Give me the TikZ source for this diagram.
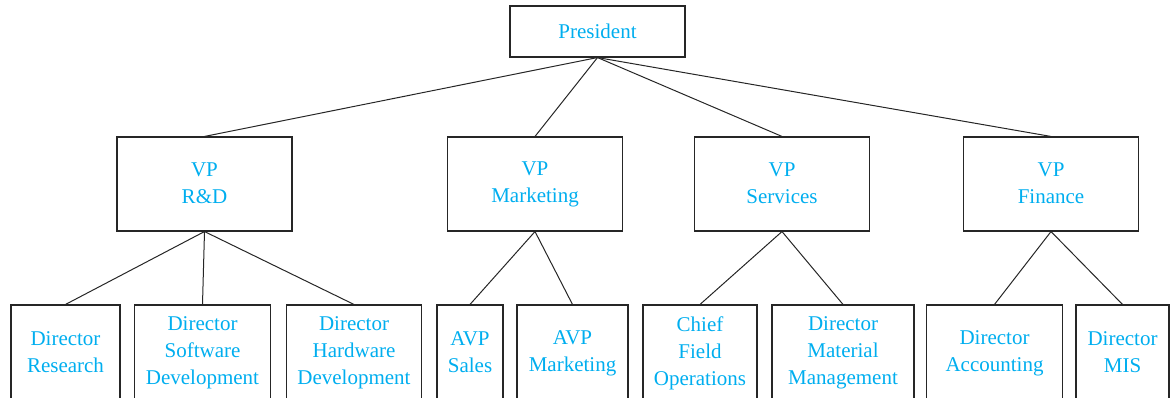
\documentclass[tikz,border=0pt]{standalone}
\usepackage{fontspec}
\setmainfont{Liberation Serif}
\definecolor{orgcyan}{RGB}{0,174,239}

\begin{document}
\begin{tikzpicture}[x=1pt, y=-1pt,
	every node/.style={font=\fontsize{21}{27}\selectfont},
	orgbox/.style={draw=black!85, line width=1.1pt, text=orgcyan, align=center, inner sep=0pt},
	struts/.style={execute at begin node={\vrule height 25pt depth 2pt width 0pt},
		execute at end node={\vrule height 25pt depth 2pt width 0pt}},
	toprow/.style={orgbox, minimum width=175pt, minimum height=51pt},
	vprow/.style={orgbox, struts, minimum width=175pt, minimum height=94pt},
	lowrow/.style={orgbox, struts, minimum height=96pt, minimum width=#1},
	conn/.style={black!85, line width=1pt}]
	\clip (0,0) rectangle (1172,398);
	\node[toprow] (pres) at (597.5,31.5) {President};
	% vice presidents
	\node[vprow] (vprd) at (204.5,184) {VP\\R\&D};
	\node[vprow] (vpmkt) at (535,184) {VP\\Marketing};
	\node[vprow] (vpsrv) at (782,184) {VP\\Services};
	\node[vprow] (vpfin) at (1051,184) {VP\\Finance};
	% directors
	\node[lowrow=109pt] (dres) at (65.5,353) {Director\\Research};
	\node[lowrow=136pt] (dsw) at (202.5,353) {Director\\Software\\Development};
	\node[lowrow=135pt] (dhw) at (354,353) {Director\\Hardware\\Development};
	\node[lowrow=66pt] (avps) at (470,353) {AVP\\Sales};
	\node[lowrow=111pt] (avpm) at (572.5,353) {AVP\\Marketing};
	\node[lowrow=114pt] (cfo) at (700,353) {Chief\\Field\\Operations};
	\node[lowrow=142pt] (dmm) at (843,353) {Director\\Material\\Management};
	\node[lowrow=136pt] (dacc) at (994.5,353) {Director\\Accounting};
	\node[lowrow=93pt] (dmis) at (1122.5,353) {Director\\MIS};
	% connectors
	\foreach \v in {vprd,vpmkt,vpsrv,vpfin}
		\draw[conn] (pres.south) -- (\v.north);
	\foreach \p/\c in {vprd/dres, vprd/dsw, vprd/dhw, vpmkt/avps, vpmkt/avpm, vpsrv/cfo, vpsrv/dmm, vpfin/dacc, vpfin/dmis}
		\draw[conn] (\p.south) -- (\c.north);
\end{tikzpicture}
\end{document}
